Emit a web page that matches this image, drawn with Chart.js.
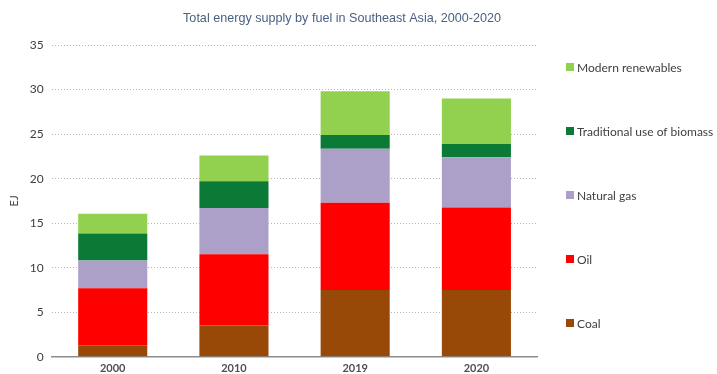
<!DOCTYPE html>
<html>
<head>
<meta charset="utf-8">
<script src="https://cdn.jsdelivr.net/npm/chart.js@4/dist/chart.umd.min.js"></script>
<style>
    html, body { margin: 0; background: #fff; }
    #wadah { position: relative; width: 717px; height: 374px; }
</style>
</head>
<body>
<div id="wadah"><canvas id="grafik"></canvas></div>
<script>
const tahun = ["2000", "2010", "2019", "2020"];
const coal = [1.3, 3.5, 7.5, 7.5];
const oil = [6.4, 8.0, 9.8, 9.25];
const natural_gas = [3.1, 5.2, 6.05, 5.65];
const traditional_biomass = [3.05, 3.0, 1.55, 1.5];
const modern_renewables = [2.2, 2.9, 4.9, 5.1];
const judul = "Total energy supply by fuel in Southeast Asia, 2000-2020";

document.addEventListener("DOMContentLoaded", () => {
    const ctx = document.getElementById("grafik").getContext("2d");

    // title and legend drawn by hand, the stock ones can't sit where the original has them
    const judul_dan_legenda = {
        id: "judul_dan_legenda",
        afterDraw(chart) {
            const c = chart.ctx;
            c.save();
            c.textBaseline = "middle";
            c.font = "12.6px 'Liberation Sans'";
            c.fillStyle = "#4a5f82";
            c.textAlign = "center";
            c.fillText(judul, 342, 19);

            c.font = "12px Lato";
            c.textAlign = "left";
            const x_legenda = chart.chartArea.right + 29;
            chart.data.datasets.slice().reverse().forEach((dataset, i) => {
                const y = 67 + i * 64;
                c.fillStyle = dataset.backgroundColor;
                c.fillRect(x_legenda, y - 4, 8, 8);
                c.fillStyle = "#404040";
                c.fillText(dataset.label, x_legenda + 11, y + 1);
            });
            c.restore();
        },
    };

    new Chart(ctx, {
        type: "bar",
        data: {
            labels: tahun,
            datasets: [
                { label: "Coal", data: coal, backgroundColor: "#984807" },
                { label: "Oil", data: oil, backgroundColor: "#ff0000" },
                { label: "Natural gas", data: natural_gas, backgroundColor: "#aca0c8" },
                { label: "Traditional use of biomass", data: traditional_biomass, backgroundColor: "#0a7a36" },
                { label: "Modern renewables", data: modern_renewables, backgroundColor: "#92d050" },
            ],
        },
        options: {
            responsive: true,
            maintainAspectRatio: false,
            animation: false,
            layout: {
                padding: { top: 45, right: 180, bottom: -6, left: 8 },
            },
            datasets: {
                bar: {
                    categoryPercentage: 1,
                    barPercentage: 0.57,
                },
            },
            plugins: {
                legend: { display: false },
                title: { display: false },
                tooltip: { enabled: false },
            },
            scales: {
                x: {
                    stacked: true,
                    grid: { display: false, drawTicks: false },
                    border: { display: true, color: "#8c8c8c", width: 1.5 },
                    ticks: {
                        color: "#505050",
                        font: { family: "Lato", size: 11, weight: "bold" },
                        padding: 5,
                    },
                },
                y: {
                    stacked: true,
                    min: 0,
                    max: 35,
                    title: {
                        display: true,
                        text: "EJ",
                        color: "#404040",
                        font: { family: "Lato", size: 11 },
                        padding: { top: 0, bottom: 0 },
                    },
                    ticks: {
                        stepSize: 5,
                        color: "#404040",
                        font: { family: "Lato", size: 12 },
                        padding: 8.5,
                    },
                    grid: {
                        color: "#b5b5b5",
                        drawTicks: false,
                    },
                    border: { display: false, dash: [1, 2] },
                },
            },
        },
        plugins: [judul_dan_legenda],
    });
});
</script>
</body>
</html>
